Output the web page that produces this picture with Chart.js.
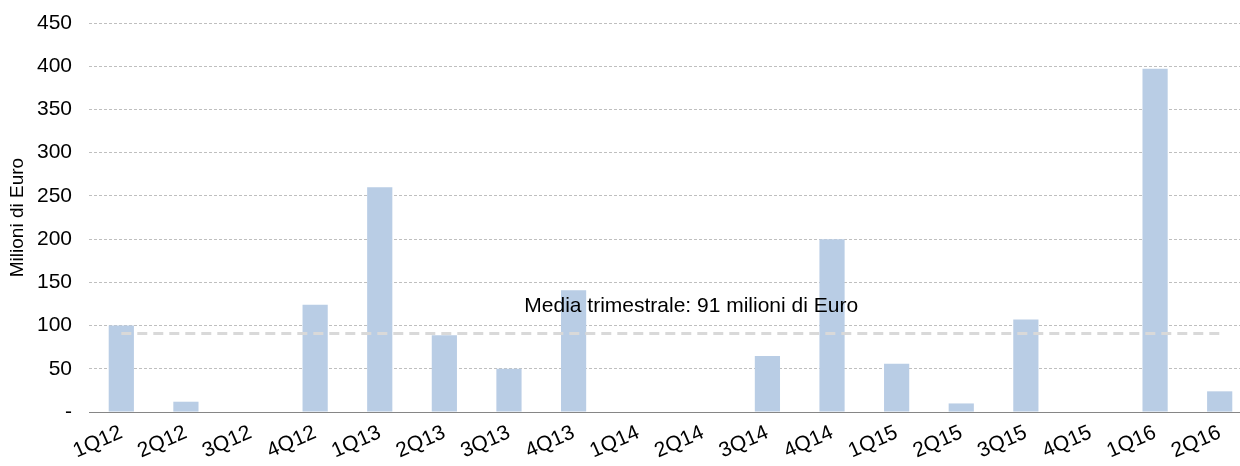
<!DOCTYPE html>
<html>
<head>
<meta charset="utf-8">
<script src="https://cdn.jsdelivr.net/npm/chart.js@4"></script>
<style>
  html, body { margin: 0; padding: 0; background: #ffffff; overflow: hidden; }
  #wrap { position: absolute; left: 0; top: 0; width: 1252px; height: 466px; }
</style>
</head>
<body>
<div id="wrap"><canvas id="chart"></canvas></div>
<script>
// Quarterly values, milioni di Euro
const quarters = ['1Q12', '2Q12', '3Q12', '4Q12', '1Q13', '2Q13', '3Q13', '4Q13', '1Q14', '2Q14',
                  '3Q14', '4Q14', '1Q15', '2Q15', '3Q15', '4Q15', '1Q16', '2Q16'];
const values = [100, 12, 0, 124, 260, 89, 50, 141, 0, 0, 65, 200, 56, 10, 107, 0, 397, 24];
const average = 91;
const avgLabel = 'Media trimestrale: 91 milioni di Euro';
const yTicks = [0, 50, 100, 150, 200, 250, 300, 350, 400, 450];

const font = 'Liberation Sans, Arial, sans-serif';

// Text label above the dashed average line
const avgText = {
    id: 'avgText',
    afterDatasetsDraw(chart) {
        const { ctx, scales: { x, y } } = chart;
        ctx.save();
        ctx.font = '21px ' + font;
        ctx.fillStyle = '#000000';
        ctx.textAlign = 'center';
        ctx.textBaseline = 'middle';
        ctx.fillText(avgLabel, x.getPixelForValue(8.82), y.getPixelForValue(average) - 27);
        ctx.restore();
    }
};

new Chart(document.getElementById('chart'), {
    data: {
        labels: quarters,
        datasets: [
            {
                type: 'line',
                data: quarters.map(() => average),
                borderColor: '#d9d9d9',
                borderWidth: 3,
                borderDash: [10, 6],
                pointRadius: 0,
                fill: false,
                order: 0
            },
            {
                type: 'bar',
                data: values,
                backgroundColor: '#b9cde5',
                barPercentage: 0.39,
                categoryPercentage: 1,
                order: 1
            }
        ]
    },
    plugins: [avgText],
    options: {
        responsive: true,
        maintainAspectRatio: false,
        animation: false,
        layout: { padding: { top: 0, right: 0, left: 6, bottom: 2 } },
        plugins: {
            legend: { display: false },
            tooltip: { enabled: false }
        },
        scales: {
            x: {
                offset: true,
                grid: { display: false },
                border: { color: '#868686', width: 1 },
                ticks: {
                    color: '#000000',
                    font: { family: font, size: 21 },
                    maxRotation: 24,
                    minRotation: 24,
                    padding: 0
                }
            },
            y: {
                min: 0,
                max: 450,
                afterBuildTicks: (axis) => { axis.ticks = yTicks.map(v => ({ value: v })); },
                afterFit: (axis) => {
                    axis.width = 83;
                    axis.paddingTop = 23;
                },
                grid: {
                    color: (c) => c.tick && c.tick.value === 0 ? 'rgba(0,0,0,0)' : '#bfbfbf',
                    drawTicks: false
                },
                border: { display: false, dash: [3, 2] },
                ticks: {
                    color: '#000000',
                    font: { family: font, size: 21 },
                    padding: 17,
                    callback: (v) => v === 0 ? '-' : v
                },
                title: {
                    display: true,
                    text: 'Milioni di Euro',
                    color: '#000000',
                    font: { family: font, size: 19 },
                    padding: { top: 0, bottom: 0 }
                }
            }
        }
    }
});
</script>
</body>
</html>
